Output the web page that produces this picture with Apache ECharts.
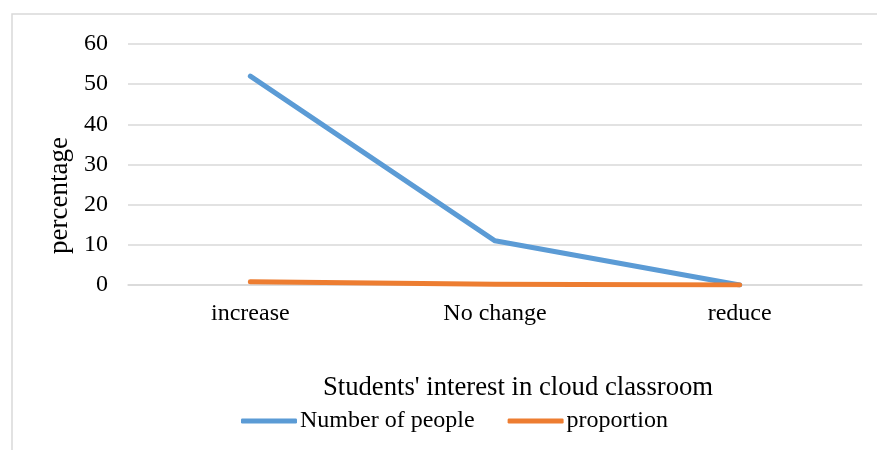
<!DOCTYPE html>
<html>
<head>
<meta charset="utf-8">
<script src="https://cdn.jsdelivr.net/npm/echarts@6/dist/echarts.min.js"></script>
<style>html,body{margin:0;padding:0;background:#fff;}#c{width:877px;height:450px;}</style>
</head>
<body>
<div id="c"></div>
<script>
const categories = ['increase', 'No change', 'reduce'];
const numberOfPeople = [52, 11, 0];
const proportion = [0.83, 0.17, 0];
const yTicks = [0, 10, 20, 30, 40, 50, 60];

const FONT = '"Liberation Serif", "Times New Roman", serif';
const chart = echarts.init(document.getElementById('c'));
chart.setOption({
  animation: false,
  backgroundColor: '#fff',
  textStyle: { fontFamily: FONT, color: '#000' },
  graphic: [{
    type: 'rect',
    shape: { x: 12, y: 14, width: 900, height: 500 },
    style: { fill: 'none', stroke: '#d9d9d9', lineWidth: 1.5 },
    silent: true
  }],
  title: {
    text: "Students' interest in cloud classroom",
    left: 513,
    top: 369,
    textAlign: 'center',
    textStyle: { fontFamily: FONT, fontSize: 26.7, fontWeight: 'normal', color: '#000' }
  },
  legend: {
    left: 236,
    top: 404,
    itemWidth: 56,
    itemHeight: 5,
    itemGap: 33,
    icon: 'roundRect',
    textStyle: { fontFamily: FONT, fontSize: 24, color: '#000', padding: [0, 0, 0, -2] },
    data: ['Number of people', 'proportion']
  },
  grid: { left: 128, right: 15, top: 44, bottom: 165, containLabel: false },
  xAxis: {
    type: 'category',
    data: categories,
    boundaryGap: true,
    axisLine: { show: true, lineStyle: { color: '#d9d9d9', width: 1.5 } },
    axisTick: { show: false },
    axisLabel: { fontFamily: FONT, fontSize: 24, color: '#000', margin: 17 }
  },
  yAxis: {
    type: 'value',
    min: 0,
    max: 60,
    interval: 10,
    name: 'percentage',
    nameLocation: 'middle',
    nameGap: 52,
    nameRotate: 90,
    nameTextStyle: { fontFamily: FONT, fontSize: 27, color: '#000', padding: [0, 62, 0, 0] },
    axisLine: { show: false },
    axisTick: { show: false },
    axisLabel: {
      fontFamily: FONT, fontSize: 24, color: '#000', margin: 20,
      formatter: v => yTicks.includes(v) ? String(v) : ''
    },
    splitLine: { lineStyle: { color: '#d9d9d9', width: 1.5 } }
  },
  series: [
    {
      name: 'Number of people', type: 'line', data: numberOfPeople,
      showSymbol: false, symbol: 'none',
      lineStyle: { color: '#5B9BD5', width: 5, cap: 'round', join: 'round' },
      itemStyle: { color: '#5B9BD5' }
    },
    {
      name: 'proportion', type: 'line', data: proportion,
      showSymbol: false, symbol: 'none',
      lineStyle: { color: '#ED7D31', width: 5, cap: 'round', join: 'round' },
      itemStyle: { color: '#ED7D31' }
    }
  ]
});
</script>
</body>
</html>
